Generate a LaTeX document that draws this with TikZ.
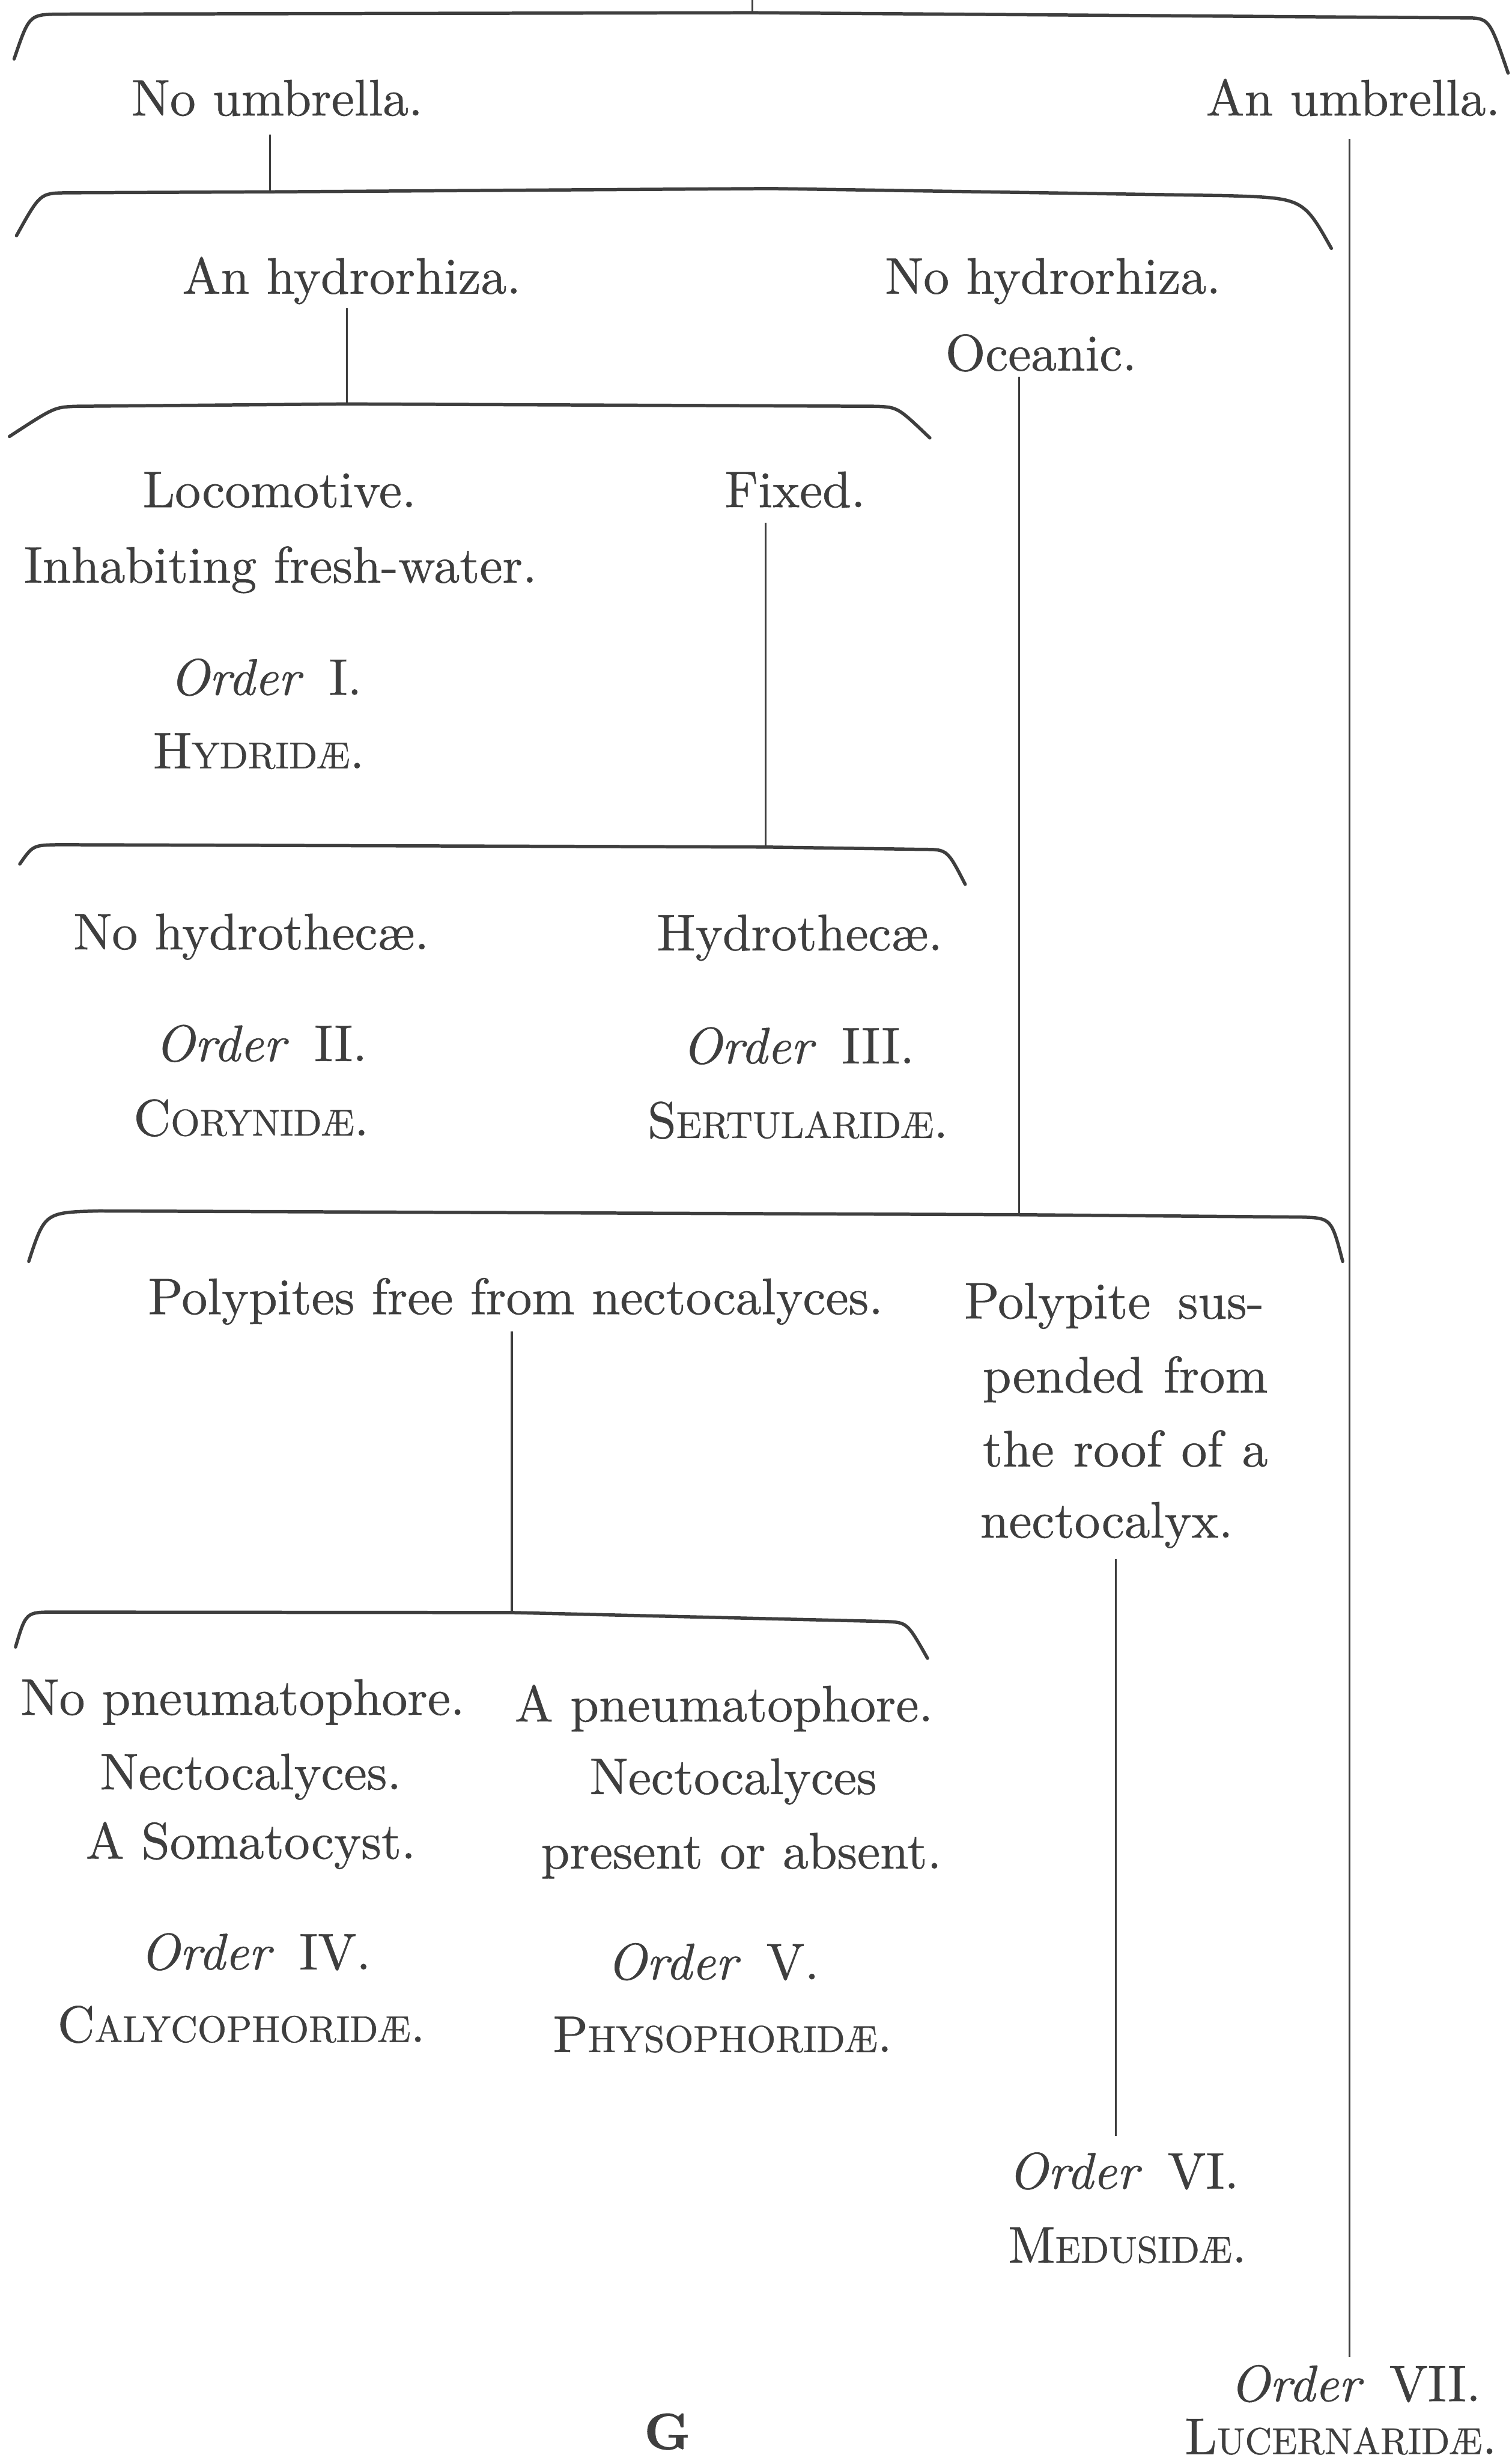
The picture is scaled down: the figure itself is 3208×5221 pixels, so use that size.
\documentclass[tikz,border=0pt]{standalone}
\usepackage{fontspec}
\setmainfont{lmroman10-regular}[Extension=.otf, ItalicFont=lmroman10-italic, BoldFont=lmroman10-bold, FakeBold=0.6]
\definecolor{ink}{RGB}{62,62,62}
\newcommand\bigsz{\fontsize{109}{130}\selectfont}
\newcommand\fsc[2]{#1{\fontsize{79}{90}\selectfont #2}}
\tikzset{
  lbl/.style={anchor=base, inner sep=0pt, text=ink, font=\bigsz},
  lblw/.style={lbl, anchor=base west},
  brk/.style={draw=ink, line width=7pt, line cap=round, line join=round},
  conn/.style={draw=ink, line width=4pt},
}
\begin{document}
\begin{tikzpicture}[x=1pt,y=1pt]
\useasboundingbox[fill=white] (0,0) rectangle (3208,-5221);

% ---- texts ----
\node[lbl] (nou)  at (588,-245)  {No umbrella.};
\node[lbl] (anu)  at (2871,-245) {An umbrella.};
\node[lbl] (anh)  at (746,-623)  {An hydrorhiza.};
\node[lbl] (noh)  at (2234,-623) {No hydrorhiza.};
\node[lbl] (oce)  at (2209,-786) {Oceanic.};
\node[lbl] (loco) at (593,-1076) {Locomotive.};
\node[lbl] (fix)  at (1687,-1076) {Fixed.};
\node[lbl] (inh)  at (595,-1236) {Inhabiting fresh-water.};
\node[lbl] (ord1) at (564,-1474) {\textit{Order}\enspace I.};
\node[lbl] (hyd)  at (549,-1630) {\fsc{H}{YDRIDÆ}.};
\node[lbl] (nhth) at (533,-2014) {No hydrothecæ.};
\node[lbl] (hth)  at (1697,-2016) {Hydrothecæ.};
\node[lbl] (ord2) at (554,-2251) {\textit{Order}\enspace II.};
\node[lbl] (ord3) at (1694,-2256) {\textit{Order}\enspace III.};
\node[lbl] (cor)  at (533,-2409) {\fsc{C}{ORYNIDÆ}.};
\node[lbl] (ser)  at (1693,-2414) {\fsc{S}{ERTULARIDÆ}.};
\node[lbl] (pol)  at (1094,-2788) {Polypites free from nectocalyces.};
\node[lblw] (sus1) at (2046,-2797) {\makebox[636pt][s]{Polypite sus-}};
\node[lblw] (sus2) at (2085,-2954) {\makebox[605pt][s]{pended from}};
\node[lblw] (sus3) at (2085,-3111) {\makebox[605pt][s]{the roof of a}};
\node[lblw] (sus4) at (2080,-3262) {nectocalyx.};
\node[lbl] (np1)  at (515,-3638) {No pneumatophore.};
\node[lbl] (np2)  at (532,-3796) {Nectocalyces.};
\node[lbl] (np3)  at (532,-3943) {A Somatocyst.};
\node[lbl] (ord4) at (542,-4178) {\textit{Order}\enspace IV.};
\node[lbl] (cal)  at (512,-4332) {\fsc{C}{ALYCOPHORIDÆ}.};
\node[lbl] (ap1)  at (1536,-3652) {A pneumatophore.};
\node[lbl] (ap2)  at (1556,-3806) {Nectocalyces};
\node[lbl] (ap3)  at (1573,-3964) {present or absent.};
\node[lbl] (ord5) at (1513,-4199) {\textit{Order}\enspace V.};
\node[lbl] (phy)  at (1533,-4353) {\fsc{P}{HYSOPHORIDÆ}.};
\node[lbl] (ord6) at (2384,-4643) {\textit{Order}\enspace VI.};
\node[lbl] (med)  at (2392,-4800) {\fsc{M}{EDUSIDÆ}.};
\node[lbl] (ord7) at (2876,-5094) {\textit{Order}\enspace VII.};
\node[lbl] (luc)  at (2845,-5206) {\fsc{L}{UCERNARIDÆ}.};
\node[lbl] (sig)  at (1416,-5196) {\textbf{G}};

% ---- brackets ----
\draw[brk] (30,-125) .. controls (62,-31) .. (125,-30)
  -- (1597,-27) coordinate (b1a)
  -- (3108,-38) .. controls (3160,-38) .. (3200,-155);
\draw[brk] (35,-500) .. controls (85,-410) .. (140,-409)
  -- (573,-407) coordinate (b2a) -- (1636,-400)
  -- (2600,-415) .. controls (2765,-420) .. (2825,-527);
\draw[brk] (20,-926) .. controls (115,-864) .. (160,-862)
  -- (736,-857) coordinate (b3a)
  -- (1860,-862) .. controls (1905,-864) .. (1973,-929);
\draw[brk] (42,-1833) .. controls (70,-1793) .. (125,-1792)
  -- (1624,-1797) coordinate (b4a)
  -- (1960,-1802) .. controls (2010,-1802) .. (2048,-1876);
\draw[brk] (61,-2676) .. controls (95,-2572) .. (210,-2569)
  -- (2162,-2577) coordinate (b5a)
  -- (2760,-2582) .. controls (2825,-2584) .. (2849,-2676);
\draw[brk] (33,-3494) .. controls (55,-3420) .. (115,-3420)
  -- (1086,-3421) coordinate (b6a)
  -- (1880,-3440) .. controls (1925,-3442) .. (1968,-3518);

% ---- connectors ----
\coordinate (top) at (1597,0);
\draw[conn] (top) -- (b1a);
\draw[conn] ([xshift=-15pt,yshift=-40pt]nou.base) -- (b2a);
\coordinate (c2s) at ([xshift=-8pt,yshift=-50pt]anu.base);
\draw[conn] (c2s) -- ([yshift=17pt]c2s |- ord7.north);
\draw[conn] ([xshift=-10pt,yshift=-31pt]anh.base) -- (b3a);
\draw[conn] ([xshift=-47pt,yshift=-13pt]oce.base) -- (b5a);
\draw[conn] ([xshift=-63pt,yshift=-33pt]fix.base) -- (b4a);
\draw[conn] ([xshift=-8pt,yshift=-36pt]pol.base) -- (b6a);
\coordinate (c7s) at ([xshift=288pt,yshift=-46pt]sus4.base west);
\draw[conn] (c7s) -- ([yshift=35pt]c7s |- ord6.north);
\end{tikzpicture}
\end{document}
